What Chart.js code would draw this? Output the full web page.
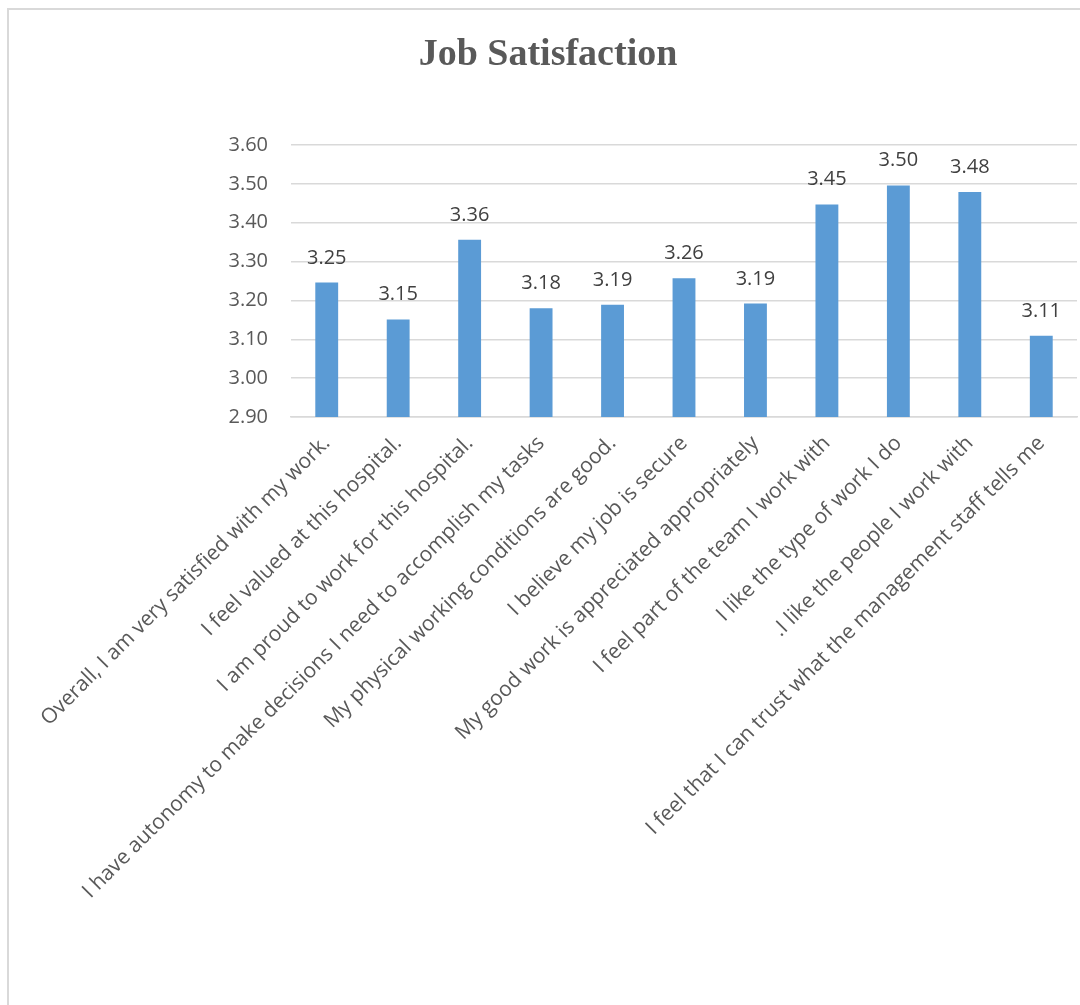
<!DOCTYPE html>
<html>
<head>
<meta charset="utf-8">
<title>Job Satisfaction</title>
<script src="https://cdn.jsdelivr.net/npm/chart.js@4.4.1/dist/chart.umd.min.js"></script>
<style>
    html, body { margin: 0; padding: 0; background: #ffffff; }
    #chartBox { position: relative; width: 1080px; height: 1005px; }
</style>
</head>
<body>
<div id="chartBox"><canvas id="satisfactionChart"></canvas></div>
<script>
// Données
const categories = [
    'Overall, I am very satisfied with my work.',
    'I feel valued at this hospital.',
    'I am proud to work for this hospital.',
    'I have autonomy to make decisions I need to accomplish my tasks',
    'My physical working conditions are good.',
    'I believe my job is secure',
    'My good work is appreciated appropriately',
    'I feel part of the team I work with',
    'I like the type of work I do',
    '.I like the people I work with',
    'I feel that I can trust what the management staff tells me'
];
const scores = [3.246, 3.151, 3.356, 3.18, 3.189, 3.257, 3.192, 3.447, 3.496, 3.479, 3.109];
const yTicks = [2.9, 3.0, 3.1, 3.2, 3.3, 3.4, 3.5, 3.6];

const labelFont = "'Open Sans', 'Noto Sans', sans-serif";

// Cadre gris clair autour du graphique (bords gauche et haut visibles)
const framePlugin = {
    id: 'frame',
    beforeDraw(chart) {
        const ctx = chart.ctx;
        ctx.save();
        ctx.strokeStyle = '#d9d9d9';
        ctx.lineWidth = 2;
        ctx.beginPath();
        ctx.moveTo(8, chart.height);
        ctx.lineTo(8, 9);
        ctx.lineTo(chart.width, 9);
        ctx.stroke();
        ctx.restore();
    }
};

// Valeurs affichées au-dessus des barres
const valueLabels = {
    id: 'valueLabels',
    afterDatasetsDraw(chart) {
        const ctx = chart.ctx;
        const meta = chart.getDatasetMeta(0);
        ctx.save();
        ctx.font = `20px ${labelFont}`;
        ctx.fillStyle = '#404040';
        ctx.textAlign = 'center';
        ctx.textBaseline = 'alphabetic';
        meta.data.forEach((bar, i) => {
            ctx.fillText(scores[i].toFixed(2), bar.x, bar.y - 19);
        });
        ctx.restore();
    }
};

new Chart(document.getElementById('satisfactionChart').getContext('2d'), {
    type: 'bar',
    data: {
        labels: categories,
        datasets: [{
            label: 'Job Satisfaction',
            data: scores,
            backgroundColor: '#5b9bd5',
            borderWidth: 0,
            barPercentage: 0.32,
            categoryPercentage: 1
        }]
    },
    options: {
        responsive: true,
        maintainAspectRatio: false,
        animation: false,
        layout: { padding: { left: 19, right: 3, top: 0, bottom: 0 } },
        plugins: {
            legend: { display: false },
            tooltip: { enabled: false },
            title: {
                display: true,
                text: 'Job Satisfaction',
                color: '#595959',
                font: { family: "'Liberation Serif', 'Times New Roman', serif", size: 38, weight: 'bold', lineHeight: 1.2 },
                padding: { top: 32, bottom: 67.4 }
            }
        },
        scales: {
            y: {
                min: 2.9,
                max: 3.6,
                afterBuildTicks: (scale) => { scale.ticks = yTicks.map(v => ({ value: v })); },
                afterFit: (scale) => { scale.width = 272; },
                border: { display: false },
                grid: { color: '#d9d9d9', lineWidth: 1.5, drawTicks: false },
                ticks: {
                    padding: 23,
                    color: '#595959',
                    font: { family: labelFont, size: 20 },
                    callback: (value) => Number(value).toFixed(2)
                }
            },
            x: {
                afterFit: (scale) => { scale.height = 588; },
                border: { display: true, color: '#d9d9d9', width: 1.5 },
                grid: { display: false },
                ticks: {
                    autoSkip: false,
                    maxRotation: 45,
                    minRotation: 45,
                    padding: 6,
                    color: '#595959',
                    font: { family: labelFont, size: 21 }
                }
            }
        }
    },
    plugins: [framePlugin, valueLabels]
});
</script>
</body>
</html>
